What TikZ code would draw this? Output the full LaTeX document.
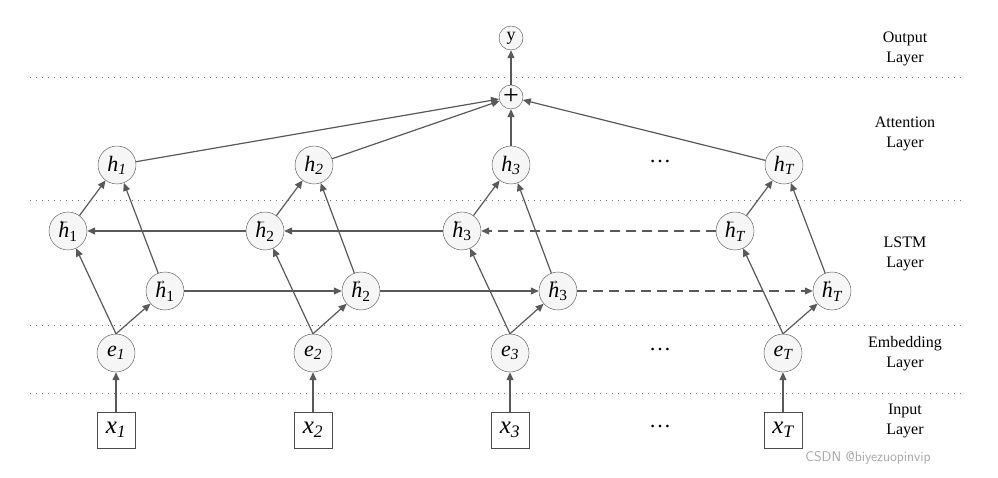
\documentclass[tikz,border=0pt]{standalone}
\usepackage{fontspec}
\setmainfont{Liberation Serif}
\usetikzlibrary{arrows.meta}
\newcommand{\hvec}[2]{{\setbox0\hbox{\itshape h}\rlap{\raisebox{0.62em}{\hbox to\wd0{\hss\fontsize{12}{12}\selectfont #1\hss}}}\itshape h}\textsubscript{#2}}
\begin{document}
\begin{tikzpicture}[x=1pt,y=-1pt,
  nd/.style={circle,draw=black!70,fill=gray!7,minimum size=38pt,inner sep=0pt,font=\fontsize{22}{22}\selectfont},
  sm/.style={circle,draw=black!70,fill=gray!7,minimum size=24pt,inner sep=0pt,font=\fontsize{18}{18}\selectfont},
  bx/.style={rectangle,draw=black!70,minimum width=38pt,minimum height=36pt,inner sep=0pt,font=\fontsize{25}{25}\selectfont},
  ar/.style={draw=black!65,line width=1.2pt,-{Triangle[length=8pt,width=7pt]}},
  lbl/.style={align=center,font=\fontsize{16}{20}\selectfont},
  sep/.style={draw=black!55,line width=1pt,dash pattern=on 1pt off 5pt}]
\useasboundingbox (0,0) rectangle (998,478);
\foreach \yy in {78,201,325,393} \draw[sep] (30,\yy) -- (965,\yy);
\foreach \i/\xe/\xb/\xf/\s in {1/116/68/165/1,2/313/265/361/2,3/510/462/558/3,4/783/735/832/{\itshape T}}{
  \node[bx] (x\i) at (\xe,430) {\itshape x\textsubscript{\s}};
  \node[nd] (e\i) at (\xe,353) {\itshape e\textsubscript{\s}};
  \node[nd] (b\i) at (\xb,231) {\hvec{←}{\s}};
  \node[nd] (f\i) at (\xf,291) {\hvec{→}{\s}};
  \node[nd] (h\i) at (\xe+1,165) {\itshape h\textsubscript{\s}};
  \draw[ar] (x\i) -- (e\i);
  \draw[ar] (e\i.north) -- (b\i);
  \draw[ar] (e\i.north) -- (f\i);
  \draw[ar] (b\i) -- (h\i);
  \draw[ar] (f\i) -- (h\i);
}
\node[sm,font=\fontsize{28}{28}\selectfont] (p) at (511,97) {\raisebox{-0.05em}{+}};
\node[sm] (y) at (511,38) {y};
\draw[ar] (p) -- (y);
\foreach \i in {1,...,4} \draw[ar] (h\i) -- (p);
\draw[ar] (b2) -- (b1);
\draw[ar] (b3) -- (b2);
\draw[ar,dash pattern=on 10pt off 6pt] (b4) -- (b3);
\draw[ar] (f1) -- (f2);
\draw[ar] (f2) -- (f3);
\draw[ar,dash pattern=on 10pt off 6pt] (f3) -- (f4);
\node[font=\fontsize{22}{22}\selectfont] (d1) at (660,162) {…};
\node[font=\fontsize{22}{22}\selectfont] (d2) at (660,350) {…};
\node[font=\fontsize{22}{22}\selectfont] (d3) at (660,427) {…};
\node[lbl] (l1) at (905,49) {Output\\Layer};
\node[lbl] (l2) at (905,134) {Attention\\Layer};
\node[lbl] (l3) at (905,254) {LSTM\\Layer};
\node[lbl] (l4) at (905,354) {Embedding\\Layer};
\node[lbl] (l5) at (905,421) {Input\\Layer};
\node[font=\sffamily\fontsize{14}{14}\selectfont,text=gray!70] (wm) at (868,458) {CSDN @biyezuopinvip};
\end{tikzpicture}
\end{document}
